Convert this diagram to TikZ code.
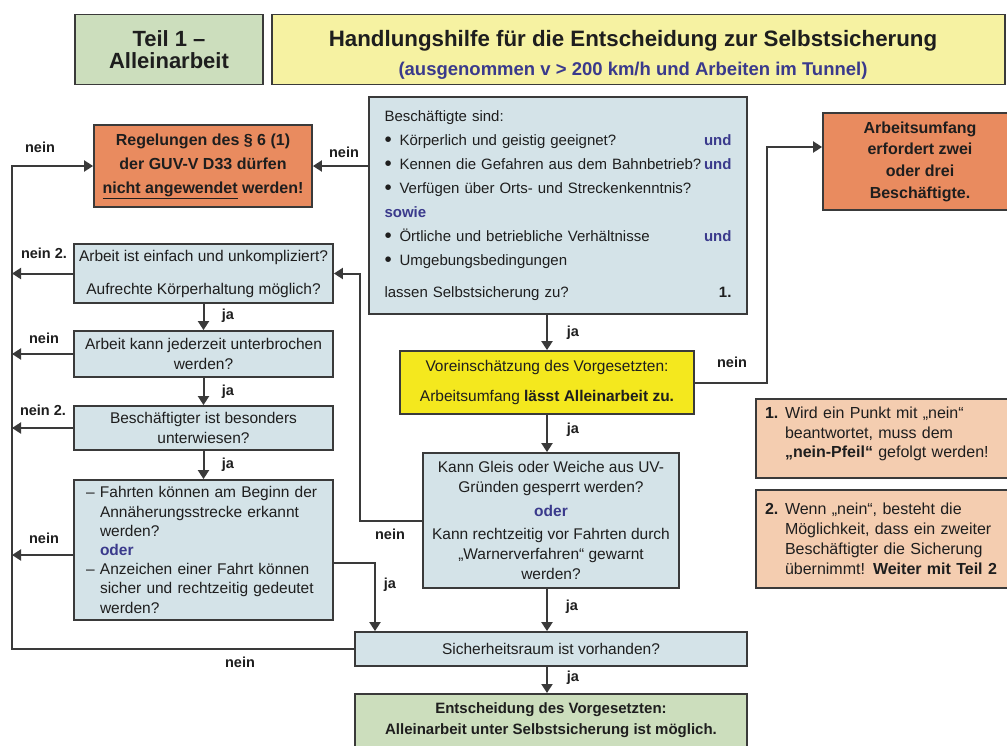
\documentclass[tikz,border=0pt]{standalone}
\usepackage{fontspec}
\setmainfont{Liberation Sans}
\usetikzlibrary{arrows.meta}
\definecolor{bordc}{HTML}{3A3A3A}
\definecolor{txt}{HTML}{1E1E1E}
\definecolor{blueF}{HTML}{D4E3E8}
\definecolor{greenF}{HTML}{CCDEBD}
\definecolor{titleY}{HTML}{F6F2A2}
\definecolor{strongY}{HTML}{F4E81E}
\definecolor{orangeF}{HTML}{E98B5F}
\definecolor{noteF}{HTML}{F4CDB0}
\definecolor{undc}{HTML}{3A3A8C}
\newcommand\undw{{\color{undc}\bfseries und}}
\newcommand\bulx{\makebox[15pt][l]{\raisebox{-1.2pt}{\fontsize{20.5}{20}\selectfont •}}}
\newcommand\dshx{\makebox[14pt][l]{–}}
\newcommand\indx{\hspace*{14pt}}
\newcommand\nindx{\hspace*{20pt}}
\tikzset{
  box/.style={draw=bordc, line width=1.8pt, inner sep=0pt, align=center, text=txt},
  bluebox/.style={box, fill=blueF},
  greenbox/.style={box, fill=greenF},
  orangebox/.style={box, fill=orangeF},
  notebox/.style={box, fill=noteF, align=left, text width=243pt, inner xsep=9pt},
  arr/.style={draw=bordc, line width=2pt, -{Triangle[length=9pt,width=11pt]}},
  lab/.style={font=\fontsize{14.5}{16}\selectfont\bfseries, text=txt, inner sep=0pt},
}
\begin{document}
\begin{tikzpicture}[x=1pt,y=-1pt]
\useasboundingbox (0,0) rectangle (1007,745);

% header
\node[greenbox, minimum width=188pt, minimum height=70pt,
      font=\fontsize{22}{22}\selectfont\bfseries] (teil) at (169,49.5) {Teil 1 –\\Alleinarbeit};
\node[box, fill=titleY, minimum width=733pt, minimum height=70pt] (titlebox) at (638.5,49.5) {};
\node[align=center, inner sep=0pt, text=txt, font=\fontsize{18.5}{29}\selectfont] (title) at (633,55)
  {{\fontsize{22.3}{26}\selectfont\bfseries Handlungshilfe für die Entscheidung zur Selbstsicherung}\\
   {\color{undc}\bfseries (ausgenommen v > 200 km/h und Arbeiten im Tunnel)}};

% top row
\node[orangebox, minimum width=218pt, minimum height=82pt,
      font=\fontsize{16}{24}\selectfont\bfseries] (reg) at (203,166)
  {Regelungen des § 6 (1)\\der GUV-V D33 dürfen\\\underline{nicht angewendet} werden!};

\node[bluebox, align=left, text width=347pt, inner xsep=15.5pt, minimum height=217pt,
      font=\fontsize{15}{24}\selectfont] (central) at (558,205.5)
  {Beschäftigte sind:\\
   \bulx Körperlich und geistig geeignet?\hfill\undw\\
   \bulx Kennen die Gefahren aus dem Bahnbetrieb?\hfill\undw\\
   \bulx Verfügen über Orts- und Streckenkenntnis?\\
   {\color{undc}\bfseries sowie}\\
   \bulx Örtliche und betriebliche Verhältnisse\hfill\undw\\
   \bulx Umgebungsbedingungen\\[8pt]
   lassen Selbstsicherung zu?\hfill\textbf{1.}};

\node[orangebox, minimum width=194pt, minimum height=97pt,
      font=\fontsize{16}{21.7}\selectfont\bfseries] (umf) at (920,161.5)
  {Arbeitsumfang\\erfordert zwei\\oder drei\\Beschäftigte.};

% left column
\node[bluebox, minimum width=259pt, minimum height=59pt,
      font=\fontsize{15.5}{33}\selectfont] (einfach) at (203.5,273.5)
  {Arbeit ist einfach und unkompliziert?\\Aufrechte Körperhaltung möglich?};
\node[bluebox, minimum width=259pt, minimum height=46pt,
      font=\fontsize{15.5}{19.5}\selectfont] (jederzeit) at (203.5,354)
  {Arbeit kann jederzeit unterbrochen\\werden?};
\node[bluebox, minimum width=259pt, minimum height=44pt,
      font=\fontsize{15.5}{19.5}\selectfont] (besonders) at (203.5,428)
  {Beschäftigter ist besonders\\unterwiesen?};
\node[bluebox, align=left, text width=235pt, inner xsep=12pt, minimum height=140pt,
      font=\fontsize{15.5}{19.2}\selectfont] (fahrt) at (203.5,550)
  {\mbox{\dshx Fahrten können am Beginn der}\\
   \mbox{\indx Annäherungsstrecke erkannt}\\
   \mbox{\indx werden?}\\
   \mbox{\indx{\color{undc}\bfseries oder}}\\
   \mbox{\dshx Anzeichen einer Fahrt können}\\
   \mbox{\indx sicher und rechtzeitig gedeutet}\\
   \mbox{\indx werden?}};

% middle column
\node[box, fill=strongY, minimum width=294pt, minimum height=63pt,
      font=\fontsize{15.5}{30}\selectfont] (vorein) at (547,382.5)
  {Voreinschätzung des Vorgesetzten:\\Arbeitsumfang \textbf{lässt Alleinarbeit zu.}};
\node[bluebox, minimum width=256pt, minimum height=135pt,
      font=\fontsize{15.5}{20}\selectfont] (kann) at (551,520.5)
  {Kann Gleis oder Weiche aus UV-\\Gründen gesperrt werden?\\[4pt]
   {\color{undc}\bfseries oder}\\[3pt]
   Kann rechtzeitig vor Fahrten durch\\„Warnerverfahren“ gewarnt\\werden?};
\node[bluebox, minimum width=392pt, minimum height=34pt,
      font=\fontsize{15.5}{19}\selectfont] (sicher) at (551,649)
  {Sicherheitsraum ist vorhanden?};
\node[greenbox, anchor=north, minimum width=392pt, minimum height=70pt,
      font=\fontsize{15}{21}\selectfont\bfseries] (entsch) at (551,693)
  {Entscheidung des Vorgesetzten:\\Alleinarbeit unter Selbstsicherung ist möglich.\\\mbox{}};

% notes
\node[notebox, minimum height=79pt, font=\fontsize{16}{19.5}\selectfont] (note1) at (886.5,438.5)
  {\makebox[20pt][l]{\textbf{1.}}Wird ein Punkt mit „nein“\\
   \nindx beantwortet, muss dem\\
   \nindx\textbf{„nein-Pfeil“} gefolgt werden!\\[-7pt]\mbox{}};
\node[notebox, minimum height=98pt, font=\fontsize{16}{20}\selectfont] (note2) at (886.5,539)
  {\makebox[20pt][l]{\textbf{2.}}Wenn „nein“, besteht die\\
   \nindx Möglichkeit, dass ein zweiter\\
   \nindx Beschäftigter die Sicherung\\
   \nindx übernimmt! \textbf{Weiter mit Teil 2}};

% helper coordinates
\coordinate (bus) at (12,0);
\coordinate (rbus) at (767,0);
\coordinate (mbus) at (360,0);
\coordinate (jbus) at (375,0);
\coordinate (spine) at (547,0);

% connectors
\draw[arr] (sicher.west) -- (sicher.west -| bus) |- (reg.west);
\draw[arr] (central.west |- reg.east) -- (reg.east);
\draw[arr] (einfach.west) -- (einfach.west -| bus);
\draw[arr] (jederzeit.west) -- (jederzeit.west -| bus);
\draw[arr] (besonders.west) -- (besonders.west -| bus);
\draw[arr] ([yshift=-5pt]fahrt.west) -- ([yshift=-5pt]fahrt.west -| bus);
\draw[arr] (einfach.south) -- (jederzeit.north);
\draw[arr] (jederzeit.south) -- (besonders.north);
\draw[arr] (besonders.south) -- (fahrt.north);
\draw[arr] (central.south -| spine) -- (vorein.north -| spine);
\draw[arr] (vorein.south -| spine) -- (kann.north -| spine);
\draw[arr] (kann.south -| spine) -- (sicher.north -| spine);
\draw[arr] (sicher.south -| spine) -- (entsch.north -| spine);
\draw[arr] (vorein.east) -- (vorein.east -| rbus) |- ([yshift=14.5pt]umf.west);
\draw[arr] (kann.west) -- (kann.west -| mbus) |- (einfach.east);
\draw[arr] ([yshift=-13pt]fahrt.east) -| (jbus |- sicher.north);

% labels
\node[lab] (n1) at (40,147) {nein};
\node[lab] (n2) at (344,152) {nein};
\node[lab] (n3) at (44,253) {nein 2.};
\node[lab] (n4) at (44,338) {nein};
\node[lab] (n5) at (43,410) {nein 2.};
\node[lab] (n6) at (44,538) {nein};
\node[lab] (n7) at (390,534) {nein};
\node[lab] (n8) at (732,362) {nein};
\node[lab] (n9) at (240,662) {nein};
\node[lab] (j1) at (228,316) {ja};
\node[lab] (j2) at (228,392) {ja};
\node[lab] (j3) at (228,465) {ja};
\node[lab] (j4) at (573,333) {ja};
\node[lab] (j5) at (573,430) {ja};
\node[lab] (j6) at (572,607) {ja};
\node[lab] (j7) at (390,585) {ja};
\node[lab] (j8) at (573,678) {ja};
\end{tikzpicture}
\end{document}
